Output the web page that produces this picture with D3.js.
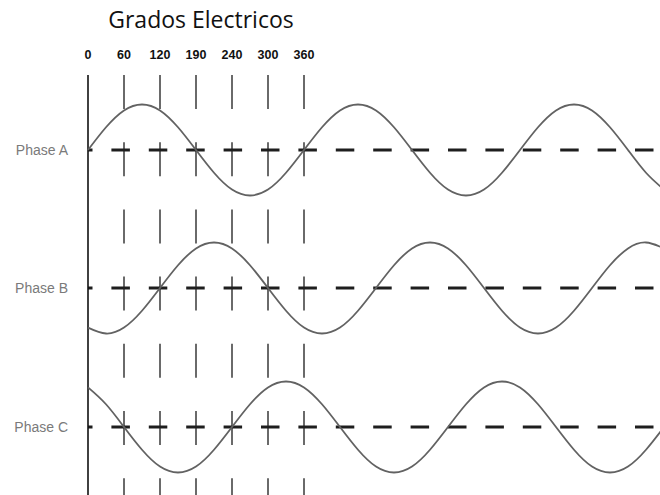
<!DOCTYPE html>
<html>
<head>
<meta charset="utf-8">
<script src="https://cdn.jsdelivr.net/npm/d3@7"></script>
<style>
  html, body { margin: 0; padding: 0; background: #fff; }
</style>
</head>
<body>
<div id="chart"></div>
<script>
// Grados electricos - tres fases desfasadas 120°

const width = 660,
      height = 495;

// datos
const tickLabels = ["0", "60", "120", "190", "240", "300", "360"];
const phaseNames = ["Phase A", "Phase B", "Phase C"];
const degrees = [0, 30, 60, 90, 120, 150, 180, 210, 240, 270, 300, 330,
                 360, 390, 420, 450, 480, 510, 540, 570, 600, 630, 660, 690,
                 720, 750, 780, 810, 840, 870, 900, 930, 960];
const phaseA = [0, 0.5, 0.87, 1, 0.87, 0.5, 0, -0.5, -0.87, -1, -0.87, -0.5,
                0, 0.5, 0.87, 1, 0.87, 0.5, 0, -0.5, -0.87, -1, -0.87, -0.5,
                0, 0.5, 0.87, 1, 0.87, 0.5, 0, -0.5, -0.87];
const phaseB = [-0.87, -1, -0.87, -0.5, 0, 0.5, 0.87, 1, 0.87, 0.5, 0, -0.5,
                -0.87, -1, -0.87, -0.5, 0, 0.5, 0.87, 1, 0.87, 0.5, 0, -0.5,
                -0.87, -1, -0.87, -0.5, 0, 0.5, 0.87, 1, 0.87];
const phaseC = [0.87, 0.5, 0, -0.5, -0.87, -1, -0.87, -0.5, 0, 0.5, 0.87, 1,
                0.87, 0.5, 0, -0.5, -0.87, -1, -0.87, -0.5, 0, 0.5, 0.87, 1,
                0.87, 0.5, 0, -0.5, -0.87, -1, -0.87, -0.5, 0];

// layout
const x0 = 88, x360 = 304;
const axisTop = 75;
const baselines = [150, 288, 427];
const amp = 45.5;

const svg = d3.select("#chart")
  .append("svg")
  .attr("width", width)
  .attr("height", height);

// escalas
const x = d3.scaleLinear().domain([0, 360]).range([x0, x360]);
const xTick = d3.scalePoint().domain(tickLabels).range([x0, x360]);

// título
svg.append("text")
  .attr("x", 201)
  .attr("y", 28)
  .attr("text-anchor", "middle")
  .attr("font-family", "'Open Sans', 'Noto Sans', sans-serif")
  .attr("font-size", "23px")
  .attr("fill", "#111")
  .text("Grados Electricos");

// etiquetas de grados
svg.selectAll(".tick-label")
  .data(tickLabels)
  .join("text")
  .attr("class", "tick-label")
  .attr("x", d => xTick(d))
  .attr("y", 59)
  .attr("text-anchor", "middle")
  .attr("font-family", "'Liberation Sans', Arial, sans-serif")
  .attr("font-weight", "bold")
  .attr("font-size", "12.5px")
  .attr("fill", "#111")
  .text(d => d);

// líneas verticales discontinuas
svg.selectAll(".vtick")
  .data(tickLabels.slice(1))
  .join("line")
  .attr("class", "vtick")
  .attr("x1", d => xTick(d))
  .attr("x2", d => xTick(d))
  .attr("y1", axisTop)
  .attr("y2", height)
  .attr("stroke", "#6a6a6a")
  .attr("stroke-width", 2)
  .attr("stroke-dasharray", "34,33.2");

// líneas horizontales discontinuas (referencia de cada fase)
svg.selectAll(".hline")
  .data(baselines)
  .join("line")
  .attr("class", "hline")
  .attr("x1", x0)
  .attr("x2", width)
  .attr("y1", d => d)
  .attr("y2", d => d)
  .attr("stroke", "#1e1e1e")
  .attr("stroke-width", 2.8)
  .attr("stroke-dasharray", "18.5,18.9")
  .attr("stroke-dashoffset", 14);

// eje vertical
svg.append("line")
  .attr("x1", x0).attr("x2", x0)
  .attr("y1", axisTop).attr("y2", height)
  .attr("stroke", "#111")
  .attr("stroke-width", 1.6);

// ondas
const series = [phaseA, phaseB, phaseC];
series.forEach((vals, i) => {
  const y = d3.scaleLinear()
    .domain([-1, 1])
    .range([baselines[i] + amp, baselines[i] - amp]);

  const line = d3.line()
    .x((d, j) => x(degrees[j]))
    .y(d => y(d))
    .curve(d3.curveNatural);

  svg.append("path")
    .datum(vals)
    .attr("fill", "none")
    .attr("stroke", "#626262")
    .attr("stroke-width", 1.8)
    .attr("d", line);

  // nombre de la fase
  svg.append("text")
    .attr("x", 68)
    .attr("y", baselines[i])
    .attr("dy", "0.36em")
    .attr("text-anchor", "end")
    .attr("font-family", "'Liberation Sans', Arial, sans-serif")
    .attr("font-size", "14px")
    .attr("fill", "#7a7a7a")
    .text(phaseNames[i]);
});
</script>
</body>
</html>
